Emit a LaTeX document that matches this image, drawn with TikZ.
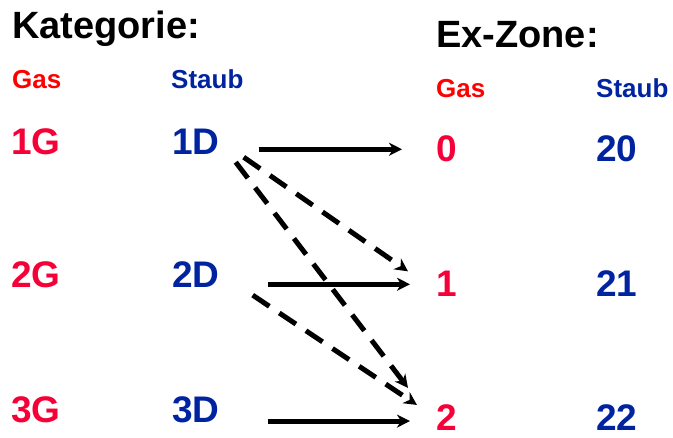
\documentclass[tikz,border=0pt]{standalone}
\usepackage{fontspec}
\setmainfont{Liberation Sans}
\usetikzlibrary{arrows.meta,calc}
\definecolor{gasred}{RGB}{255,0,0}
\definecolor{catred}{RGB}{245,0,55}
\definecolor{dustblue}{RGB}{0,35,160}
\tikzset{
  lbl/.style={inner sep=0pt, anchor=base west, font=\bfseries},
  title/.style={lbl, font=\fontsize{38}{42}\selectfont\bfseries},
  sub/.style={lbl, font=\fontsize{26}{30}\selectfont\bfseries},
  big/.style={lbl, font=\fontsize{37}{42}\selectfont\bfseries},
  conn/.style={line width=5pt, -{Stealth[length=13pt,width=13pt,inset=4pt]}},
  dconn/.style={conn, dash pattern=on 20pt off 12pt},
}
\begin{document}
\begin{tikzpicture}[x=1pt,y=-1pt]
\useasboundingbox (0,0) rectangle (673,438);
% column headings
\node[title] (kat) at (12,39) {Kategorie:};
\node[title] (exz) at (436,48) {Ex-Zone:};
\node[sub, text=gasred] (gasL) at (12,89) {Gas};
\node[sub, text=dustblue] (staubL) at (171,89) {Staub};
\node[sub, text=gasred] (gasR) at (436,98) {Gas};
\node[sub, text=dustblue] (staubR) at (596,98) {Staub};
% categories
\node[big, text=catred] (G1) at (11,155) {1G};
\node[big, text=catred] (G2) at (11,288) {2G};
\node[big, text=catred] (G3) at (11,423) {3G};
\node[big, text=dustblue] (D1) at (172,155) {1D};
\node[big, text=dustblue] (D2) at (172,288) {2D};
\node[big, text=dustblue] (D3) at (172,423) {3D};
% zones
\node[big, text=catred] (Z0) at (436,162) {0};
\node[big, text=catred] (Z1) at (436,297) {1};
\node[big, text=catred] (Z2) at (436,431) {2};
\node[big, text=dustblue] (Z20) at (596,162) {20};
\node[big, text=dustblue] (Z21) at (596,297) {21};
\node[big, text=dustblue] (Z22) at (596,431) {22};
% permitted use: solid = intended zone, dashed = also allowed
\draw[conn] ([xshift=39pt]D1.east |- Z0.center) -- ([xshift=-34pt]Z0.west);
\draw[conn] ([xshift=48pt]D2.east |- Z1.center) -- ([xshift=-26pt]Z1.west);
\draw[conn] ([xshift=48pt,yshift=-3pt]D3.east |- Z2.center) -- ([xshift=-26pt,yshift=-3pt]Z2.west);
\draw[dconn] ([shift={(24pt,-2pt)}]D1.south east) -- ([shift={(-28pt,0pt)}]Z1.north west);
\draw[dconn] ([shift={(16pt,-7pt)}]D1.south east) -- ([shift={(-28pt,17pt)}]Z2.north west);
\draw[dconn] ([shift={(33pt,-7pt)}]D2.south east) -- ([shift={(-19pt,0pt)}]Z2.north west);
\end{tikzpicture}
\end{document}
